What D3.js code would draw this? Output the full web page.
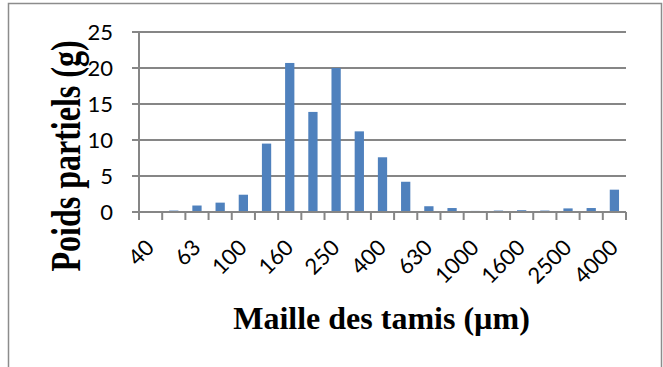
<!DOCTYPE html>
<html>
<head>
<meta charset="utf-8">
<script src="https://cdn.jsdelivr.net/npm/d3@7"></script>
<style>
  html, body { margin: 0; padding: 0; background: #fff; }
  svg { display: block; }
</style>
</head>
<body>
<script>
// Sieve openings (µm) and the mass retained on each sieve (g)
const categories = ["40","50","63","80","100","125","160","200","250","315","400","500","630","800","1000","1250","1600","2000","2500","3150","4000"];
const values = [0, 0.2, 0.9, 1.3, 2.4, 9.5, 20.7, 13.9, 20.0, 11.2, 7.6, 4.2, 0.8, 0.55, 0.15, 0.2, 0.25, 0.2, 0.5, 0.55, 3.1];
const yTicks = [0, 5, 10, 15, 20, 25];
const xLabelEvery = 2;

const W = 663, H = 367;
const plot = { left: 139, right: 626, top: 32, bottom: 212 };
const gridColor = "#868686";
const barColor = "#4F81BD";

const svg = d3.select("body").append("svg").attr("width", W).attr("height", H);

// outer chart frame
svg.append("path")
  .attr("d", `M8.5,${H + 2} L8.5,3.5 L661.5,3.5 L661.5,${H + 2}`)
  .attr("fill", "none").attr("stroke", "#8c8c8c").attr("stroke-width", 1.5);

const x = d3.scaleBand().domain(categories)
  .range([plot.left, plot.right]).paddingInner(0.6).paddingOuter(0.3);
const y = d3.scaleLinear().domain([0, 25]).range([plot.bottom, plot.top]);

// horizontal gridlines (extend left as tick marks)
svg.append("g").selectAll("line").data(yTicks.filter(d => d > 0)).join("line")
  .attr("x1", plot.left - 7).attr("x2", plot.right)
  .attr("y1", d => y(d)).attr("y2", d => y(d))
  .attr("stroke", gridColor).attr("stroke-width", 2);

// bars
svg.append("g").selectAll("rect").data(categories).join("rect")
  .attr("x", d => x(d))
  .attr("width", x.bandwidth())
  .attr("y", (d, i) => y(values[i]))
  .attr("height", (d, i) => y(0) - y(values[i]))
  .attr("fill", barColor);

// category axis with ticks at slot boundaries
const half = (x.step() - x.bandwidth()) / 2;
const bounds = categories.map(c => x(c) - half).concat([plot.right]);
const xa = svg.append("g");
xa.append("line")
  .attr("x1", plot.left - 7).attr("x2", plot.right)
  .attr("y1", y(0)).attr("y2", y(0))
  .attr("stroke", gridColor).attr("stroke-width", 2);
xa.selectAll("line.tick").data(bounds).join("line").attr("class", "tick")
  .attr("x1", d => d).attr("x2", d => d)
  .attr("y1", y(0)).attr("y2", y(0) + 8)
  .attr("stroke", gridColor).attr("stroke-width", 2);

// value axis line
svg.append("line")
  .attr("x1", plot.left).attr("x2", plot.left)
  .attr("y1", plot.top).attr("y2", y(0) + 8)
  .attr("stroke", gridColor).attr("stroke-width", 2);

// value tick labels
svg.append("g").selectAll("text").data(yTicks).join("text")
  .attr("x", 113).attr("y", d => y(d))
  .attr("dy", "0.36em")
  .attr("text-anchor", "end")
  .attr("font-family", "Lato, 'Open Sans', sans-serif")
  .attr("font-size", 22)
  .attr("fill", "#000")
  .text(d => d);

// category labels, rotated, every other sieve
svg.append("g").selectAll("text")
  .data(categories.filter((c, i) => i % xLabelEvery === 0)).join("text")
  .attr("transform", d => `translate(${x(d) + x.bandwidth() / 2 + 5},${249}) rotate(-45)`)
  .attr("text-anchor", "end")
  .attr("font-family", "Lato, 'Open Sans', sans-serif")
  .attr("font-size", 22)
  .attr("fill", "#000")
  .text(d => d);

// axis titles
svg.append("text")
  .attr("transform", "translate(80,156) scale(1.3,1) rotate(-90)")
  .attr("text-anchor", "middle")
  .attr("font-family", "'Liberation Serif', 'Times New Roman', serif")
  .attr("font-weight", "bold")
  .attr("font-size", 32)
  .text("Poids partiels (g)");

svg.append("text")
  .attr("x", 381.5).attr("y", 329)
  .attr("text-anchor", "middle")
  .attr("font-family", "'Liberation Serif', 'Times New Roman', serif")
  .attr("font-weight", "bold")
  .attr("font-size", 32)
  .text("Maille des tamis (µm)");
</script>
</body>
</html>
